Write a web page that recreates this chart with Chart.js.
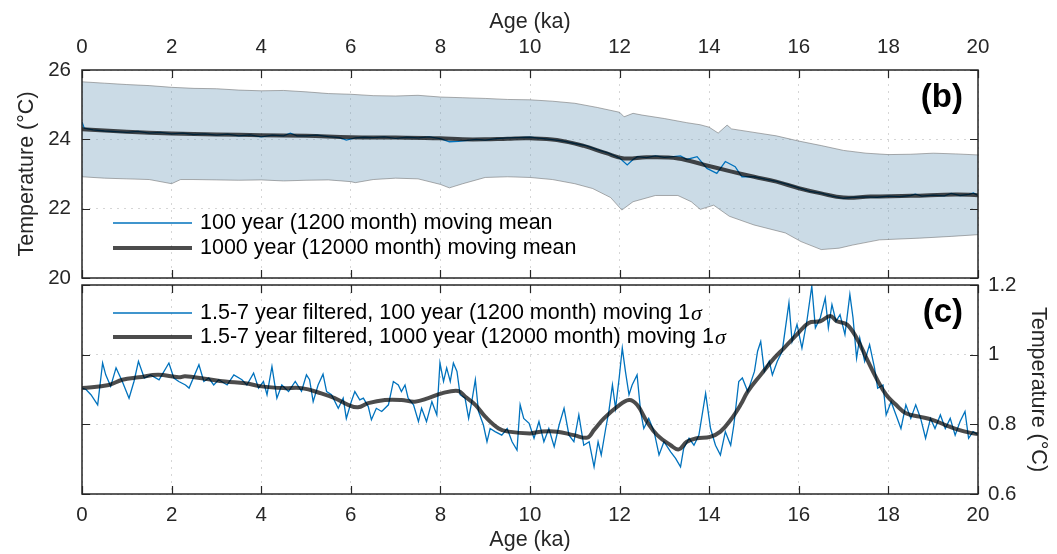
<!DOCTYPE html>
<html>
<head>
<meta charset="utf-8">
<script src="https://cdn.jsdelivr.net/npm/chart.js@4.4.1/dist/chart.umd.min.js"></script>
<style>
  html, body { margin: 0; padding: 0; background: #fff; }
  #wrap { position: relative; width: 1057px; height: 554px; }
  #wrap canvas { position: absolute; left: 0; top: 0; }
</style>
</head>
<body>
<div id="wrap">
  <canvas id="panelB" width="1057" height="554"></canvas>
  <canvas id="panelC" width="1057" height="554"></canvas>
</div>
<script>
// ---- axis ticks ----
const ageTicks = [0, 2, 4, 6, 8, 10, 12, 14, 16, 18, 20];
const tempTicks = [20, 22, 24, 26];
const sigmaTicks = [0.6, 0.8, 1.0, 1.2];

// ---- panel (b): uncertainty envelope ----
const bandUpperAge = [0,0.5,1,1.5,2,2.5,3,3.5,4,4.5,5,5.5,6,6.5,7,7.5,8,8.5,9,9.5,10,10.5,11,11.5,12,12.1,12.3,12.5,13,13.5,13.8,14,14.2,14.4,14.5,15,15.5,16,16.5,17,17.5,18,18.5,19,19.5,20];
const bandUpperTemp = [25.66,25.62,25.58,25.55,25.5,25.47,25.46,25.42,25.4,25.41,25.37,25.32,25.3,25.26,25.25,25.27,25.22,25.2,25.18,25.15,25.14,25.1,25.04,24.92,24.78,24.65,24.75,24.7,24.6,24.48,24.42,24.35,24.18,24.41,24.3,24.2,24.1,23.95,23.82,23.68,23.6,23.56,23.57,23.6,23.58,23.55];
const bandLowerAge = [0,0.5,1,1.5,2,2.2,2.5,3,3.5,4,4.5,5,5.5,6,6.1,6.5,7,7.5,8,8.2,8.5,9,9.5,10,10.5,11,11.4,11.8,12.05,12.3,12.8,13.3,13.6,13.8,14.1,14.45,15,15.7,16.05,16.5,16.9,17.2,17.8,18.7,19.4,20];
const bandLowerTemp = [22.92,22.88,22.86,22.84,22.72,22.84,22.84,22.83,22.82,22.83,22.8,22.82,22.83,22.78,22.75,22.84,22.88,22.86,22.7,22.6,22.72,22.9,22.92,22.9,22.84,22.72,22.58,22.32,21.96,22.2,22.38,22.38,22.2,21.98,22.1,21.78,21.53,21.3,21.05,20.82,20.86,20.95,21.1,21.15,21.2,21.25];

// ---- panel (b): 100-year moving mean ----
const meanAge100 = [0,0.05,0.25,0.5,0.75,1,1.25,1.5,1.75,2,2.25,2.5,2.75,3,3.25,3.5,3.75,4,4.25,4.5,4.65,4.8,5,5.25,5.5,5.75,5.9,6.1,6.3,6.5,6.75,7,7.25,7.5,7.75,8,8.2,8.4,8.6,8.8,9,9.25,9.5,9.75,10,10.25,10.5,10.75,11,11.25,11.5,11.75,11.9,12,12.17,12.3,12.4,12.6,12.8,13,13.2,13.36,13.5,13.73,13.95,14.17,14.36,14.58,14.73,15,15.25,15.5,15.75,16,16.25,16.5,16.75,17,17.25,17.5,17.75,18,18.25,18.5,18.6,18.75,19,19.25,19.4,19.6,19.8,19.9,20];
const meanTemp100 = [24.5,24.32,24.27,24.24,24.22,24.2,24.23,24.18,24.2,24.16,24.18,24.14,24.16,24.12,24.15,24.1,24.13,24.07,24.12,24.1,24.18,24.1,24.1,24.12,24.08,24.05,23.98,24.04,24.06,24.05,24.07,24.03,24.06,24.04,24.07,24.02,23.93,23.94,23.97,24.0,23.98,24.02,24.04,24.05,24.06,24.03,23.99,23.95,23.88,23.82,23.7,23.6,23.52,23.46,23.26,23.42,23.5,23.47,23.52,23.48,23.5,23.52,23.42,23.5,23.16,23.02,23.36,23.21,22.92,22.92,22.85,22.79,22.7,22.6,22.5,22.45,22.36,22.3,22.33,22.34,22.33,22.36,22.35,22.38,22.42,22.36,22.39,22.37,22.44,22.38,22.41,22.45,22.38];

// ---- panel (b): 1000-year moving mean ----
const meanAge1000 = [0,1,2,3,4,5,6,7,8,8.5,9,9.5,10,10.6,11.2,11.7,12.1,12.6,13.3,13.9,14.5,15,15.5,16,16.5,17,17.6,18.5,19.5,20];
const meanTemp1000 = [24.29,24.22,24.17,24.14,24.12,24.1,24.06,24.05,24.03,24.0,24.0,24.02,24.03,23.98,23.81,23.6,23.45,23.48,23.45,23.26,23.07,22.92,22.78,22.59,22.44,22.32,22.35,22.37,22.41,22.39];

// ---- panel (c): 1.5-7 yr filtered, 100-year moving 1 sigma ----
const sdAge100 = [0.0,0.09,0.2,0.35,0.46,0.53,0.64,0.76,0.9,1.05,1.16,1.26,1.39,1.53,1.72,1.94,2.05,2.16,2.31,2.39,2.61,2.72,2.83,2.94,3.05,3.24,3.39,3.57,3.68,3.83,3.94,4.05,4.13,4.24,4.35,4.46,4.61,4.76,4.9,
  5.01,5.08,5.16,5.27,5.38,5.46,5.57,5.72,5.83,5.9,6.01,6.09,6.2,6.28,6.39,6.46,6.57,6.69,6.84,6.95,7.06,7.13,7.21,7.28,7.4,7.51,7.58,7.69,7.81,7.92,7.99,8.07,8.14,8.22,8.29,8.37,8.44,8.55,8.63,8.7,8.78,8.85,8.96,9.04,9.11,9.22,9.37,9.49,9.6,9.71,9.78,9.86,
  9.98,10.09,10.2,10.31,10.42,10.54,10.65,10.76,10.87,10.98,11.09,11.2,11.32,11.43,11.52,11.59,11.69,11.76,11.84,11.91,11.99,12.06,12.13,12.21,12.28,12.39,12.47,12.54,12.65,12.77,12.88,12.99,13.14,13.25,13.36,13.43,13.55,13.66,13.77,13.92,14.03,14.14,14.25,14.36,14.48,14.55,14.66,14.74,14.86,
  15.01,15.08,15.15,15.23,15.34,15.41,15.52,15.63,15.78,15.85,15.96,16.07,16.18,16.29,16.37,16.48,16.59,16.66,16.74,16.83,16.92,17.03,17.14,17.21,17.29,17.36,17.47,17.58,17.69,17.76,17.88,17.95,18.06,18.17,18.28,18.39,18.5,18.61,18.72,18.83,18.94,19.04,19.16,19.27,19.38,19.49,19.6,19.71,19.79,19.89,20.0];
const sdVal100 = [0.904,0.9,0.885,0.856,0.976,0.942,0.909,0.962,0.923,0.875,0.923,0.981,0.933,0.942,0.928,0.976,0.933,0.923,0.913,0.904,0.971,0.923,0.933,0.913,0.928,0.913,0.942,0.928,0.913,0.947,0.904,0.923,0.885,0.966,0.875,0.913,0.894,0.923,0.895,
  0.942,0.928,0.865,0.913,0.944,0.894,0.885,0.846,0.875,0.817,0.865,0.894,0.87,0.875,0.851,0.813,0.846,0.837,0.856,0.923,0.913,0.894,0.913,0.875,0.856,0.808,0.846,0.808,0.865,0.827,0.976,0.923,0.962,0.923,0.976,0.952,0.885,0.875,0.817,0.865,0.928,0.837,0.798,0.75,0.788,0.779,0.769,0.788,0.75,0.726,0.856,0.817,
  0.803,0.76,0.808,0.75,0.788,0.736,0.798,0.846,0.769,0.75,0.827,0.74,0.75,0.678,0.75,0.712,0.788,0.837,0.913,0.846,0.933,1.019,0.952,0.885,0.913,0.942,0.837,0.788,0.817,0.779,0.712,0.75,0.721,0.702,0.678,0.731,0.76,0.74,0.769,0.889,0.788,0.74,0.712,0.779,0.74,0.798,0.923,0.933,0.894,
  0.952,1.01,1.038,0.952,0.981,0.942,0.981,1.01,1.149,1.038,1.087,1.019,1.096,1.197,1.077,1.106,1.163,1.077,1.144,1.096,1.115,1.058,1.173,1.106,0.99,1.048,0.981,1.029,0.962,0.904,0.913,0.827,0.865,0.827,0.788,0.856,0.817,0.856,0.817,0.76,0.817,0.788,0.827,0.788,0.817,0.769,0.808,0.837,0.76,0.779,0.77];

// ---- panel (c): 1.5-7 yr filtered, 1000-year moving 1 sigma ----
const sdAge1000 = [0,0.6,0.9,1.27,1.7,2.16,2.3,2.74,3.2,3.64,4.0,4.5,4.9,5.34,5.64,5.94,6.16,6.39,6.76,7.13,7.43,7.73,8.03,8.4,8.55,8.78,9.0,9.3,9.52,10.0,10.24,10.61,10.98,11.28,11.43,11.65,11.95,12.21,12.39,12.61,12.84,13.14,13.32,13.5,13.72,14.02,14.25,14.48,14.7,14.86,15.15,15.45,15.67,15.96,16.22,16.48,16.7,16.85,17.07,17.29,17.51,17.73,17.95,18.17,18.39,18.69,18.98,19.27,19.57,19.89,20];
const sdVal1000 = [0.904,0.913,0.928,0.935,0.942,0.935,0.938,0.931,0.923,0.918,0.909,0.904,0.904,0.889,0.875,0.856,0.849,0.861,0.87,0.87,0.865,0.875,0.889,0.896,0.88,0.856,0.822,0.788,0.779,0.774,0.779,0.779,0.769,0.762,0.784,0.817,0.851,0.87,0.856,0.808,0.769,0.74,0.728,0.75,0.76,0.764,0.779,0.813,0.856,0.894,0.942,0.99,1.019,1.058,1.091,1.096,1.111,1.096,1.087,1.048,0.99,0.933,0.885,0.856,0.832,0.822,0.813,0.798,0.784,0.774,0.772];

// ---- styling ----
const FONT = "'Liberation Sans', Arial, Helvetica, sans-serif";
const INK = '#262626';
const BLUE = '#0072bd';
const DARK = 'rgba(0,0,0,0.7)';
const GRID = 'rgba(0,0,0,0.16)';
const BAND_FILL = 'rgba(106,152,184,0.35)';
const BAND_EDGE = 'rgba(110,110,110,0.7)';
const TICK_LEN = 8;

const pts = (xs, ys) => xs.map((x, i) => ({ x, y: ys[i] }));
const fixedTicks = list => scale => { scale.ticks = list.map(v => ({ value: v })); };

// box around the plotting area with inward tick marks on all four sides
const framePlugin = {
  id: 'frame',
  afterDatasetsDraw(chart) {
    const { ctx, chartArea: a } = chart;
    const xs = chart.scales.x;
    const ys = chart.scales.y;
    ctx.save();
    ctx.strokeStyle = INK;
    ctx.lineWidth = 1.2;
    ctx.beginPath();
    xs.ticks.forEach(t => {
      const px = Math.round(xs.getPixelForValue(t.value)) + 0.5;
      ctx.moveTo(px, a.top); ctx.lineTo(px, a.top + TICK_LEN);
      ctx.moveTo(px, a.bottom); ctx.lineTo(px, a.bottom - TICK_LEN);
    });
    ys.ticks.forEach(t => {
      const py = Math.round(ys.getPixelForValue(t.value)) + 0.5;
      ctx.moveTo(a.left, py); ctx.lineTo(a.left + TICK_LEN, py);
      ctx.moveTo(a.right, py); ctx.lineTo(a.right - TICK_LEN, py);
    });
    ctx.stroke();
    ctx.lineWidth = 1.5;
    ctx.strokeRect(a.left, a.top, a.right - a.left, a.bottom - a.top);
    ctx.restore();
  }
};

// legend drawn inside the axes box; entries come from the datasets
function legendPlugin(indices, firstRowOffset, rowStep) {
  return {
    id: 'insetLegend',
    afterDraw(chart) {
      const { ctx, chartArea: a } = chart;
      ctx.save();
      indices.forEach((di, row) => {
        const ds = chart.data.datasets[di];
        const y = a.top + firstRowOffset + row * rowStep;
        ctx.strokeStyle = ds.borderColor;
        ctx.lineWidth = ds.borderWidth;
        ctx.beginPath();
        ctx.moveTo(a.left + 31, y);
        ctx.lineTo(a.left + 110, y);
        ctx.stroke();
        ctx.fillStyle = '#000';
        ctx.textBaseline = 'middle';
        ctx.textAlign = 'left';
        let text = ds.label;
        let x = a.left + 118;
        const sigma = text.endsWith('σ');
        if (sigma) text = text.slice(0, -1);
        ctx.font = '21.5px ' + FONT;
        ctx.fillText(text, x, y);
        if (sigma) {
          x += ctx.measureText(text).width + 1;
          ctx.font = 'italic 22px "Liberation Serif", "DejaVu Serif", serif';
          ctx.fillText('σ', x, y + 1);
        }
      });
      ctx.restore();
    }
  };
}

function tagPlugin(tag) {
  return {
    id: 'panelTag',
    afterDraw(chart) {
      const { ctx, chartArea: a } = chart;
      ctx.save();
      ctx.font = 'bold 33px ' + FONT;
      ctx.fillStyle = '#000';
      ctx.textAlign = 'right';
      ctx.textBaseline = 'middle';
      ctx.fillText(tag, a.right - 15, a.top + 28);
      ctx.restore();
    }
  };
}

const tickFont = { family: FONT, size: 20.5 };
const titleFont = { family: FONT, size: 21.5 };

// ---------------- panel (b) ----------------
new Chart(document.getElementById('panelB'), {
  type: 'line',
  data: {
    datasets: [
      { label: 'upper', data: pts(bandUpperAge, bandUpperTemp), fill: '+1', backgroundColor: BAND_FILL,
        borderColor: BAND_EDGE, borderWidth: 0.8, pointRadius: 0, order: 3 },
      { label: 'lower', data: pts(bandLowerAge, bandLowerTemp), fill: false,
        borderColor: BAND_EDGE, borderWidth: 0.8, pointRadius: 0, order: 2 },
      { label: '100 year (1200 month) moving mean', data: pts(meanAge100, meanTemp100),
        borderColor: BLUE, borderWidth: 1.3, pointRadius: 0, fill: false, order: 1 },
      { label: '1000 year (12000 month) moving mean', data: pts(meanAge1000, meanTemp1000),
        borderColor: DARK, borderWidth: 4, pointRadius: 0, fill: false, tension: 0.4, order: 0 }
    ]
  },
  options: {
    responsive: false, animation: false, devicePixelRatio: 1,
    layout: { padding: { left: 0, right: 79, top: 0, bottom: 276 } },
    plugins: { legend: { display: false }, tooltip: { enabled: false } },
    scales: {
      x: {
        type: 'linear', position: 'top', min: 0, max: 20,
        afterBuildTicks: fixedTicks(ageTicks),
        ticks: { font: tickFont, color: INK, padding: 10, maxRotation: 0, autoSkip: false },
        grid: { color: GRID, drawTicks: false, lineWidth: 1 },
        border: { display: false, dash: [2, 5] },
        title: { display: true, text: 'Age (ka)', font: titleFont, color: INK, padding: { top: 9, bottom: 0 } },
        afterFit(s) { s.height = 70; }
      },
      y: {
        type: 'linear', position: 'left', min: 20, max: 26,
        afterBuildTicks: fixedTicks(tempTicks),
        ticks: { font: tickFont, color: INK, padding: 11 },
        grid: { color: GRID, drawTicks: false, lineWidth: 1 },
        border: { display: false, dash: [2, 5] },
        title: { display: true, text: 'Temperature (°C)', font: titleFont, color: INK, padding: { top: 14, bottom: 0 } },
        afterFit(s) { s.width = 82; }
      }
    }
  },
  plugins: [framePlugin, legendPlugin([2, 3], 153, 25), tagPlugin('(b)')]
});

// ---------------- panel (c) ----------------
new Chart(document.getElementById('panelC'), {
  type: 'line',
  data: {
    datasets: [
      { label: '1.5-7 year filtered, 100 year (1200 month) moving 1σ', data: pts(sdAge100, sdVal100),
        borderColor: BLUE, borderWidth: 1.3, pointRadius: 0, fill: false, order: 1 },
      { label: '1.5-7 year filtered, 1000 year (12000 month) moving 1σ', data: pts(sdAge1000, sdVal1000),
        borderColor: DARK, borderWidth: 4, pointRadius: 0, fill: false, tension: 0.4, order: 0 }
    ]
  },
  options: {
    responsive: false, animation: false, devicePixelRatio: 1,
    layout: { padding: { left: 82, right: 0, top: 285, bottom: 0 } },
    plugins: { legend: { display: false }, tooltip: { enabled: false } },
    scales: {
      x: {
        type: 'linear', position: 'bottom', min: 0, max: 20,
        afterBuildTicks: fixedTicks(ageTicks),
        ticks: { font: tickFont, color: INK, padding: 9, maxRotation: 0, autoSkip: false },
        grid: { color: GRID, drawTicks: false, lineWidth: 1 },
        border: { display: false, dash: [2, 5] },
        title: { display: true, text: 'Age (ka)', font: titleFont, color: INK, padding: { top: 0, bottom: 1 } },
        afterFit(s) { s.height = 60; }
      },
      y: {
        type: 'linear', position: 'right', min: 0.6, max: 1.2,
        afterBuildTicks: fixedTicks(sigmaTicks),
        ticks: { font: tickFont, color: INK, padding: 10, callback: v => String(Math.round(v * 10) / 10) },
        grid: { color: GRID, drawTicks: false, lineWidth: 1 },
        border: { display: false, dash: [2, 5] },
        title: { display: true, text: 'Temperature (°C)', font: titleFont, color: INK, padding: { top: 6, bottom: 0 } },
        afterFit(s) { s.width = 79; }
      }
    }
  },
  plugins: [framePlugin, legendPlugin([0, 1], 28, 24), tagPlugin('(c)')]
});
</script>
</body>
</html>
